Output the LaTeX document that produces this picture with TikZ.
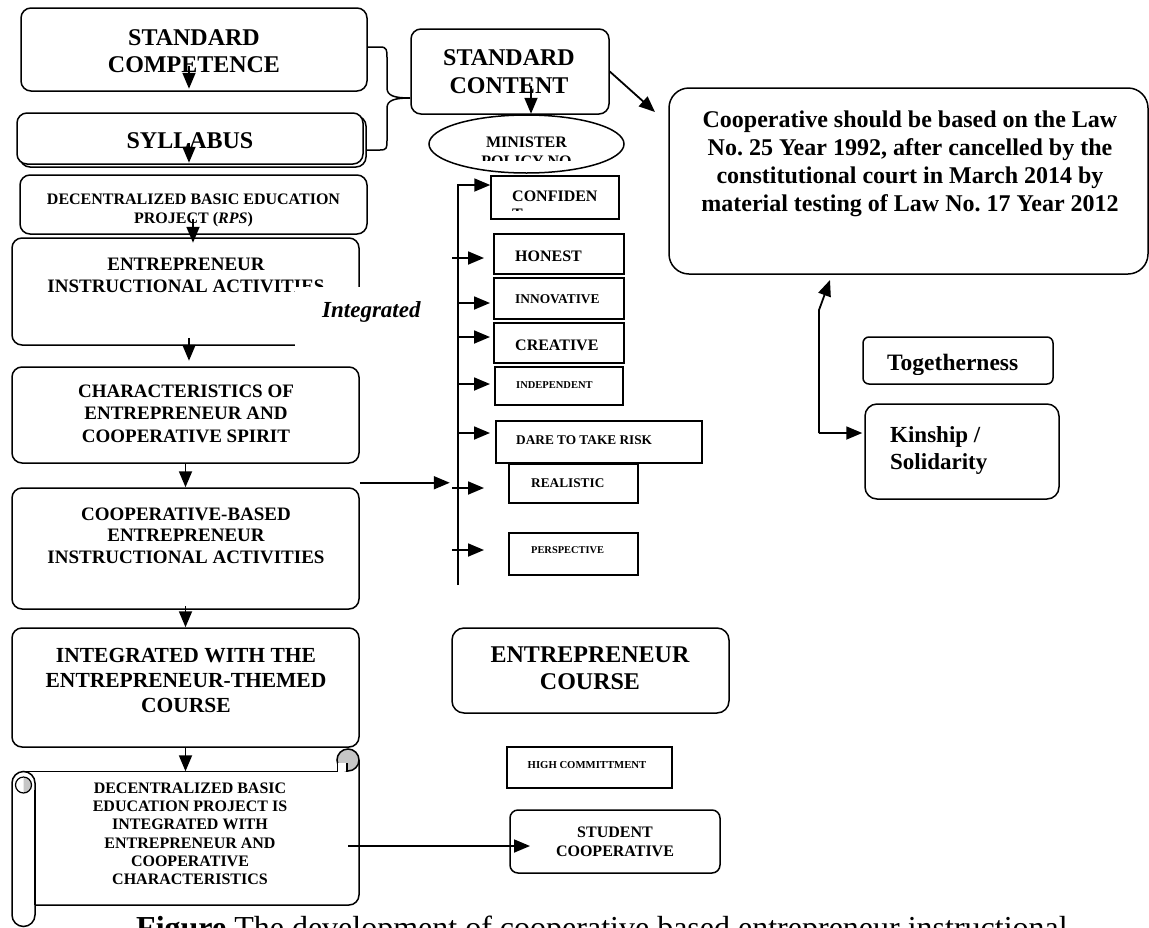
\documentclass[tikz,border=0pt]{standalone}
\usepackage{fontspec}
\setmainfont{Liberation Serif}
\usetikzlibrary{arrows.meta,shapes.geometric}
\newcommand\myfs[2]{\fontsize{#1pt}{#2pt}\selectfont\bfseries}
\begin{document}
\begin{tikzpicture}[x=1pt,y=-1pt,
 rbox/.style={draw, rounded corners=10pt, line width=1.5pt, inner sep=0pt, fill=white},
 sbox/.style={draw, line width=1.5pt, inner sep=0pt, fill=white},
 txt/.style={inner sep=0pt, align=center},
 ltxt/.style={inner sep=0pt, align=left},
 arr/.style={line width=1.8pt, -{Triangle[length=16pt,width=13pt]}},
 plain/.style={line width=1.5pt}
]
\fill[white] (0,0) rectangle (1149,927);
\useasboundingbox (0,0) rectangle (1149,927);

% ---------- left column ----------
\node[rbox, minimum width=346pt, minimum height=83pt] (sc) at (194,49.5) {};
\node[txt, font=\myfs{24}{27}, anchor=north] (sct) at (194,29) {STANDARD\\COMPETENCE};

\node[rbox, minimum width=346pt, minimum height=51pt] (sylsh) at (193,141.5) {};
\node[rbox, minimum width=346pt, minimum height=51pt] (syl) at (190,138.5) {};
\node[txt, font=\myfs{24}{27}, anchor=base] (sylt) at (190,148) {SYLLABUS};

\node[rbox, minimum width=347pt, minimum height=59pt] (dbep) at (193.5,204.5) {};
\node[txt, font=\myfs{16}{19}, anchor=north] (dbept) at (193.5,193.4) {DECENTRALIZED BASIC EDUCATION\\PROJECT (\textit{RPS})};

\node[rbox, minimum width=347pt, minimum height=107pt] (eia) at (185.5,291.5) {};
\node[txt, font=\myfs{19}{22}, anchor=north] (eiat) at (186,257.4) {ENTREPRENEUR\\INSTRUCTIONAL ACTIVITIES};
\fill[white] (295,287) rectangle (430,352);
\node[inner sep=0pt, font=\fontsize{23pt}{27pt}\selectfont\bfseries\itshape, anchor=base west] (integ) at (322,317) {Integrated};

\node[rbox, minimum width=347pt, minimum height=96pt] (char) at (185.5,415) {};
\node[txt, font=\myfs{19}{22.5}, anchor=north] (chart) at (186,384.4) {CHARACTERISTICS OF\\ENTREPRENEUR AND\\COOPERATIVE SPIRIT};

\node[rbox, minimum width=347pt, minimum height=121pt] (cbe) at (185.5,548.5) {};
\node[txt, font=\myfs{19}{21.5}, anchor=north] (cbet) at (186,507.4) {COOPERATIVE-BASED\\ENTREPRENEUR\\INSTRUCTIONAL ACTIVITIES};

\node[rbox, minimum width=347pt, minimum height=119pt] (iwt) at (185.5,687.5) {};
\node[txt, font=\myfs{21.5}{25}, anchor=north] (iwtt) at (186,647.8) {INTEGRATED WITH THE\\ENTREPRENEUR-THEMED\\COURSE};

% ---------- scroll ----------
\node[inner sep=0pt, minimum width=324pt, minimum height=133.5pt] (scroll) at (197,838.25) {};
\draw[plain, fill=white] (12,783) -- (12,915) arc[start angle=180,end angle=360,radius=11.5pt] -- (35,783) arc[start angle=0,end angle=180,radius=11.5pt] -- cycle;
\fill[gray!45] (23.5,777) arc[start angle=90,end angle=-90,radius=8pt] -- cycle;
\draw[line width=1.2pt] (23.5,785) circle[radius=8pt];
\draw[plain] (23.5,771.5) -- (337,771.5);
\draw[plain] (359,760) -- (359,895) arc[start angle=0,end angle=-90,radius=10pt] -- (35,905);
\draw[plain] (35,790) -- (35,905);
\filldraw[fill=gray!45, plain] (348,760) circle[radius=11pt];
\fill[white] (338,763) rectangle (347,770.5);
\draw[line width=1.2pt] (337.5,760) -- (337.5,771.5);
\draw[line width=1.2pt] (347,763) -- (347,771.5);
\node[txt, font=\myfs{16}{18.3}, anchor=north] (scrollt) at (190,782.4) {DECENTRALIZED BASIC\\EDUCATION PROJECT IS\\INTEGRATED WITH\\ENTREPRENEUR AND\\COOPERATIVE\\CHARACTERISTICS};

% ---------- top middle ----------
\node[rbox, minimum width=198pt, minimum height=85pt] (sco) at (510,71.5) {};
\node[txt, font=\myfs{24}{28}, anchor=north] (scot) at (509,49.1) {STANDARD\\CONTENT};
\node[draw, ellipse, line width=1.5pt, fill=white, minimum width=195pt, minimum height=58pt, inner sep=0pt] (mp) at (526.5,144) {};
\begin{scope}
\clip (430,118) rectangle (625,160);
\node[txt, font=\myfs{16}{19}, anchor=north] (mpt) at (526.5,136.4) {MINISTER\\POLICY NO};
\end{scope}

\draw[plain] (367,47) -- (380,47) .. controls (387,47) and (387,50) .. (387,58) -- (387,88) .. controls (387,96) and (395,98) .. (410,98);
\draw[plain] (410,98) .. controls (395,98) and (387,100) .. (387,108) -- (387,140) .. controls (387,148) and (387,150) .. (380,150) -- (367,150);

% ---------- law box ----------
\node[rbox, rounded corners=20pt, minimum width=479pt, minimum height=186pt] (law) at (908.5,181) {};
\node[txt, font=\myfs{24}{28}, anchor=north] (lawt) at (910,111) {Cooperative should be based on the Law\\No.\ 25 Year 1992, after cancelled by the\\constitutional court in March 2014 by\\material testing of Law No.\ 17 Year 2012};
\coordinate (lawin) at (655,112);

% ---------- list ----------
\node[sbox, minimum width=128pt, minimum height=43pt] (conf) at (555,197.5) {};
\begin{scope}
\clip (500,180) rectangle (615,210);
\node[ltxt, font=\myfs{16}{18}, anchor=north west] (conft) at (512,190.4) {CONFIDEN\\T};
\end{scope}
\node[sbox, minimum width=130pt, minimum height=40pt] (hon) at (559,254) {};
\node[ltxt, font=\myfs{16}{18}, anchor=base west] (hont) at (515,261) {HONEST};
\node[sbox, minimum width=130pt, minimum height=41pt] (inn) at (559,298.5) {};
\node[ltxt, font=\myfs{13.4}{16}, anchor=base west] (innt) at (515,303) {INNOVATIVE};
\node[sbox, minimum width=130pt, minimum height=40pt] (cre) at (559,343) {};
\node[ltxt, font=\myfs{16}{18}, anchor=base west] (cret) at (515,350) {CREATIVE};
\node[sbox, minimum width=128pt, minimum height=38pt] (ind) at (559,386) {};
\node[ltxt, font=\myfs{10.5}{12}, anchor=base west] (indt) at (516,388) {INDEPENDENT};
\node[sbox, minimum width=206pt, minimum height=42pt] (dare) at (599,442) {};
\node[ltxt, font=\myfs{13.3}{15}, anchor=base west] (daret) at (516,444) {DARE TO TAKE RISK};
\node[sbox, minimum width=129pt, minimum height=39pt] (rea) at (573.5,483.5) {};
\node[ltxt, font=\myfs{13.3}{15}, anchor=base west] (reat) at (531,487) {REALISTIC};
\node[sbox, minimum width=129pt, minimum height=42pt] (per) at (573.5,554) {};
\node[ltxt, font=\myfs{10.4}{12}, anchor=base west] (pert) at (531,553) {PERSPECTIVE};

\coordinate (bartop) at (458,185);
\coordinate (barbot) at (458,585);

% ---------- right ----------
\node[rbox, rounded corners=6pt, minimum width=190pt, minimum height=47pt] (tog) at (958,360.5) {};
\begin{scope}
\clip (866,340) rectangle (1050,374);
\node[ltxt, font=\myfs{23.5}{27}, anchor=base west] (togt) at (887,370) {Togetherness};
\end{scope}
\node[rbox, rounded corners=12pt, minimum width=194pt, minimum height=95pt] (kin) at (962,451.5) {};
\node[ltxt, font=\myfs{23}{26.5}, anchor=north west] (kint) at (890,426.8) {Kinship /\\Solidarity};
\coordinate (kc) at (819,433);
\coordinate (lawup) at (830,280);

% ---------- bottom middle ----------
\node[rbox, rounded corners=12pt, minimum width=277pt, minimum height=85pt] (ec) at (590.5,670.5) {};
\node[txt, font=\myfs{24}{27}, anchor=north] (ect) at (590,647) {ENTREPRENEUR\\COURSE};
\node[sbox, minimum width=165pt, minimum height=41pt] (hc) at (589.5,767.5) {};
\node[txt, font=\myfs{10.7}{12}, anchor=base] (hct) at (587,768) {HIGH COMMITTMENT};
\node[rbox, rounded corners=8pt, minimum width=210pt, minimum height=63pt] (stc) at (615,841.5) {};
\node[txt, font=\myfs{16}{19}, anchor=north] (stct) at (615,826.4) {STUDENT\\COOPERATIVE};
\coordinate (stcin) at (530,846);

% ---------- caption ----------
\node[inner sep=0pt, anchor=base west, font=\fontsize{32pt}{38pt}\selectfont] (cap) at (136,938) {\textbf{Figure} The development of cooperative based entrepreneur instructional};

% ---------- arrows ----------
\draw[arr] ([xshift=-5pt,yshift=26pt]sc.south) -- ([xshift=-5pt,yshift=3pt]sc.south);
\draw[arr] ([xshift=-1pt,yshift=22pt]syl.south) -- ([xshift=-1pt,yshift=2pt]syl.south);
\draw[arr] ([xshift=-0.5pt,yshift=16pt]dbep.south) -- ([xshift=-0.5pt,yshift=-8pt]dbep.south);
\draw[arr] ([xshift=3.5pt,yshift=8pt]eia.south) -- ([xshift=3.5pt,yshift=-15pt]eia.south);
\draw[arr] (char.south) -- (char.south |- cbe.north);
\draw[arr] ([yshift=4pt]cbe.south) -- (cbe.south |- iwt.north);
\draw[arr] (iwt.south) -- (iwt.south |- scroll.north);
\draw[arr] ([xshift=-11pt]scroll.east |- stcin) -- (stcin);

\draw[arr] ([xshift=21pt,yshift=29pt]sco.south) -- ([xshift=21pt,yshift=1pt]sco.south);
\draw[arr] (sco.east) -- (lawin);

\draw[arr] (barbot) -- (bartop) -- (bartop -| conf.west);
\foreach \yy/\xx in {258/452, 303/458, 337/458, 384/458, 433/458, 488/452, 550/452}
  \draw[arr] (\xx,\yy) -- ++(32pt,0pt);
\draw[arr] ([yshift=-19pt]char.south east) -- ++(90pt,0pt);

\draw[arr] (kc) -- (819,310) -- (lawup);
\draw[arr] (kc) -- ([xshift=-2pt]kc -| kin.west);
\end{tikzpicture}
\end{document}
